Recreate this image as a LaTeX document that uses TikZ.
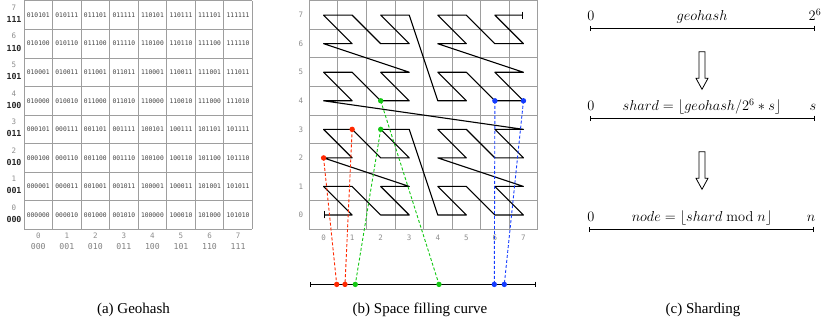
\documentclass[tikz,border=0pt]{standalone}
\usepackage[no-math]{fontspec}
\newfontfamily\capfont{Liberation Serif}
\newfontfamily\monofont{DejaVu Sans Mono}
\usetikzlibrary{arrows.meta}
\definecolor{cred}{RGB}{255,40,0}
\definecolor{cgreen}{RGB}{20,200,20}
\definecolor{cblue}{RGB}{20,60,255}
\definecolor{gridgray}{gray}{0.62}
\begin{document}
\begin{tikzpicture}[x=1pt,y=-1pt,
  gridline/.style={draw=gridgray, line width=0.9pt},
  celltxt/.style={font=\monofont\fontsize{6.3}{7}\selectfont, text=black!75, inner sep=0pt},
  lbldigit/.style={font=\monofont\fontsize{7.5}{8}\selectfont, text=black!45, inner sep=0pt},
  lblbin/.style={font=\monofont\bfseries\fontsize{8.3}{9}\selectfont, text=black!85, inner sep=0pt},
  colbin/.style={font=\monofont\fontsize{8.2}{9}\selectfont, text=black!50, inner sep=0pt},
  captxt/.style={font=\capfont\fontsize{15}{18}\selectfont, inner sep=0pt},
  mathlbl/.style={font=\fontsize{14.4}{17}\selectfont, anchor=base, inner sep=0pt},
  zcurve/.style={line width=1.1pt, line join=round, {Bar[width=7pt]}-{Bar[width=7pt]}},
  numline/.style={line width=1pt, {Bar[width=5.5pt]}-{Bar[width=5.5pt]}},
  harrow/.style={draw, line width=0.8pt, fill=white, line join=miter},
  pdot/.style={circle, fill=#1, inner sep=0pt, minimum size=5.4pt},
  linkline/.style={draw=#1, dash pattern=on 3pt off 2pt, line width=0.9pt}
]
\useasboundingbox (0,0) rectangle (822,323);

% ---------------- (a) Geohash grid ----------------
\foreach \k in {0,...,8} {
  \draw[gridline] ({24+28.54*\k},0.9) -- ({24+28.54*\k},229.3);
  \draw[gridline] (24,{0.9+28.55*\k}) -- (252.3,{0.9+28.55*\k});
}
\foreach \cx in {0,...,7} {
  \foreach \cy in {0,...,7} {
    \pgfmathtruncatemacro\xa{floor(\cx/4)}
    \pgfmathtruncatemacro\xb{mod(floor(\cx/2),2)}
    \pgfmathtruncatemacro\xc{mod(\cx,2)}
    \pgfmathtruncatemacro\ya{floor(\cy/4)}
    \pgfmathtruncatemacro\yb{mod(floor(\cy/2),2)}
    \pgfmathtruncatemacro\yc{mod(\cy,2)}
    \node[celltxt] (g\cx\cy) at ({38.27+28.54*\cx},{215-28.55*\cy}) {\xa\ya\xb\yb\xc\yc};
  }
}
\foreach \j/\bn in {0/000,1/001,2/010,3/011,4/100,5/101,6/110,7/111} {
  \node[lbldigit] (ra\j) at (14,{215-28.55*\j-7.5}) {\j};
  \node[lblbin] (rb\j) at (14,{215-28.55*\j+4.5}) {\bn};
  \node[lbldigit] (ca\j) at ({38.27+28.54*\j},236) {\j};
  \node[colbin] (cb\j) at ({38.27+28.54*\j},247) {\bn};
}
\node[captxt] (capa) at (133.5,310) {(a) Geohash};

% ---------------- (b) Space filling curve ----------------
\foreach \k in {0,...,8} {
  \draw[gridline] ({309.3+28.55*\k},0.7) -- ({309.3+28.55*\k},229.3);
  \draw[gridline] (309.3,{0.7+28.57*\k}) -- (537.7,{0.7+28.57*\k});
}
\foreach \j in {0,...,7} {
  \node[lbldigit] (rl\j) at (301,{215-28.55*\j}) {\j};
  \node[lbldigit] (cl\j) at ({323.6+28.55*\j},237.5) {\j};
}
\foreach \i in {0,...,63} {
  \pgfmathtruncatemacro\zx{mod(\i,2)+2*mod(floor(\i/4),2)+4*mod(floor(\i/16),2)}
  \pgfmathtruncatemacro\zy{mod(floor(\i/2),2)+2*mod(floor(\i/8),2)+4*mod(floor(\i/32),2)}
  \coordinate (z\i) at ({323.6+28.55*\zx},{215-28.55*\zy});
}
\draw[zcurve] (z0) \foreach \i in {1,...,63} { -- (z\i) };

\coordinate (bl) at (310,284.4);
\coordinate (br) at (536,284.4);
\draw[numline] (bl) -- (br);

\coordinate (pr1) at (336.7,284.4);
\coordinate (pr2) at (345,284.4);
\coordinate (pg1) at (355.3,284.4);
\coordinate (pg2) at (439,284.4);
\coordinate (pb1) at (494.3,284.4);
\coordinate (pb2) at (504.3,284.4);

\draw[linkline=cred] (z8) -- (pr1);
\draw[linkline=cred] (z11) -- (pr2);
\draw[linkline=cgreen] (z14) -- (pg1);
\draw[linkline=cgreen] (z36) -- (pg2);
\draw[linkline=cblue] (z52) -- (pb1);
\draw[linkline=cblue] (z53) -- (pb2);

\node[pdot=cred] (dz8) at (z8) {};
\node[pdot=cred] (dz11) at (z11) {};
\node[pdot=cgreen] (dz14) at (z14) {};
\node[pdot=cgreen] (dz36) at (z36) {};
\node[pdot=cblue] (dz52) at (z52) {};
\node[pdot=cblue] (dz53) at (z53) {};
\node[pdot=cred] (dpr1) at (pr1) {};
\node[pdot=cred] (dpr2) at (pr2) {};
\node[pdot=cgreen] (dpg1) at (pg1) {};
\node[pdot=cgreen] (dpg2) at (pg2) {};
\node[pdot=cblue] (dpb1) at (pb1) {};
\node[pdot=cblue] (dpb2) at (pb2) {};

\node[captxt] (capb) at (420,310) {(b) Space filling curve};

% ---------------- (c) Sharding ----------------
\coordinate (la1) at (590,28.5);
\coordinate (lb1) at (815,28.5);
\draw[numline] (la1) -- (lb1);
\node[mathlbl] (c1s) at (591,20.5) {$0$};
\node[mathlbl] (c1m) at (702,20.5) {$geohash$};
\node[mathlbl] (c1e) at (815,20.5) {$2^6$};

\draw[harrow] (699,51.7) -- (705,51.7) -- (705,78.3) -- (708,78.3) -- (702,89.3) -- (696,78.3) -- (699,78.3) -- cycle;

\coordinate (la2) at (590,118.5);
\coordinate (lb2) at (815,118.5);
\draw[numline] (la2) -- (lb2);
\node[mathlbl] (c2s) at (591,110.5) {$0$};
\node[mathlbl] (c2m) at (702,110.5) {$shard=\lfloor geohash/2^6*s\rfloor$};
\node[mathlbl] (c2e) at (813,110.5) {$s$};

\draw[harrow] (699,151.7) -- (705,151.7) -- (705,178.3) -- (708,178.3) -- (702,189.3) -- (696,178.3) -- (699,178.3) -- cycle;

\coordinate (la3) at (589,229.3);
\coordinate (lb3) at (814,229.3);
\draw[numline] (la3) -- (lb3);
\node[mathlbl] (c3s) at (591,221.3) {$0$};
\node[mathlbl] (c3m) at (702,221.3) {$node=\lfloor shard \bmod n\rfloor$};
\node[mathlbl] (c3e) at (811,221.3) {$n$};

\node[captxt] (capc) at (703,310) {(c) Sharding};
\end{tikzpicture}
\end{document}
